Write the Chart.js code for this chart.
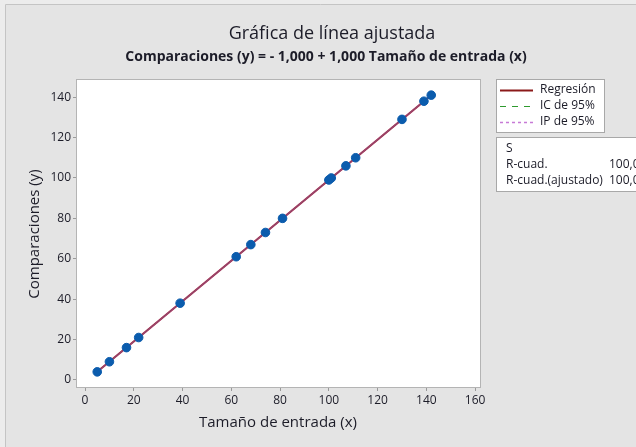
<!DOCTYPE html>
<html>
<head>
<meta charset="utf-8">
<script src="https://cdnjs.cloudflare.com/ajax/libs/Chart.js/4.4.1/chart.umd.js"></script>
<style>
  html, body { margin: 0; padding: 0; background: #ececec; }
  #wrap { position: relative; width: 636px; height: 447px; }
</style>
</head>
<body>
<div id="wrap"><canvas id="chart" width="636" height="447"></canvas></div>
<script>
// observaciones
const sizeX = [5, 10, 17, 22, 39, 62, 68, 74, 81, 100, 101, 107, 111, 130, 139, 142];
const compY = [4, 9, 16, 21, 38, 61, 67, 73, 80, 99, 100, 106, 110, 129, 138, 141];

// recta ajustada y bandas (coinciden, R-cuad. = 100%)
const fitX = [5, 142];
const fitY = [4, 141];
const ciLow = [4, 141];
const ciHigh = [4, 141];
const piLow = [4, 141];
const piHigh = [4, 141];

const xTicks = [0, 20, 40, 60, 80, 100, 120, 140, 160];
const yTicks = [0, 20, 40, 60, 80, 100, 120, 140];

const legendItems = ['Regresión', 'IC de 95%', 'IP de 95%'];
const statLabels = ['S', 'R-cuad.', 'R-cuad.(ajustado)'];
const statValues = ['', '100,0%', '100,0%'];

const FONT = '"Open Sans", "Noto Sans", sans-serif';
const TXT = '#1c1c28';

const pts = (xs, ys) => xs.map((x, i) => ({ x, y: ys[i] }));

const decor = {
  id: 'decor',
  beforeDraw(chart) {
    const { ctx, chartArea: a } = chart;
    ctx.save();
    ctx.fillStyle = '#e4e4e4';
    ctx.fillRect(5, 5, 636, 447);
    ctx.strokeStyle = '#c4c4c4';
    ctx.lineWidth = 1;
    ctx.beginPath();
    ctx.moveTo(5.5, 447); ctx.lineTo(5.5, 4.5); ctx.lineTo(636, 4.5);
    ctx.stroke();
    ctx.fillStyle = '#ffffff';
    ctx.fillRect(a.left, a.top, a.right - a.left, a.bottom - a.top);
    ctx.restore();
  },
  afterDraw(chart) {
    const { ctx, chartArea: a } = chart;
    ctx.save();
    // borde del área de trazado
    ctx.strokeStyle = '#b4b4b4';
    ctx.lineWidth = 1;
    ctx.strokeRect(a.left - 0.5, a.top - 0.5, a.right - a.left + 1, a.bottom - a.top + 1);

    // títulos
    ctx.fillStyle = TXT;
    ctx.textAlign = 'center';
    ctx.textBaseline = 'middle';
    ctx.font = '500 18px ' + FONT;
    ctx.fillText('Gráfica de línea ajustada', 332, 34);
    ctx.font = 'bold 14px ' + FONT;
    ctx.fillText('Comparaciones (y) = - 1,000 + 1,000 Tamaño de entrada (x)', 326, 57);

    // títulos de ejes
    ctx.font = '500 15px ' + FONT;
    ctx.fillText('Tamaño de entrada (x)', 278, 423);
    ctx.save();
    ctx.translate(35, 234);
    ctx.rotate(-Math.PI / 2);
    ctx.fillText('Comparaciones (y)', 0, 0);
    ctx.restore();

    // leyenda
    ctx.fillStyle = '#ffffff';
    ctx.fillRect(497, 80, 107, 52);
    ctx.strokeStyle = '#a8a8a8';
    ctx.strokeRect(496.5, 79.5, 108, 53);
    const styles = [
      { color: '#8b1a1a', dash: [], w: 2 },
      { color: '#2e9a2e', dash: [6, 6], w: 1 },
      { color: '#c77ad6', dash: [3, 3], w: 1.5 }
    ];
    ctx.font = '12px ' + FONT;
    ctx.textAlign = 'left';
    legendItems.forEach((lab, i) => {
      const y = 90 + i * 16;
      ctx.strokeStyle = styles[i].color;
      ctx.lineWidth = styles[i].w;
      ctx.setLineDash(styles[i].dash);
      ctx.beginPath();
      ctx.moveTo(500, y + 0.5);
      ctx.lineTo(533, y + 0.5);
      ctx.stroke();
      ctx.setLineDash([]);
      ctx.fillStyle = TXT;
      ctx.fillText(lab, 540, y);
    });

    // tabla de estadísticos
    ctx.fillStyle = '#ffffff';
    ctx.fillRect(497, 138, 150, 53);
    ctx.strokeStyle = '#a8a8a8';
    ctx.lineWidth = 1;
    ctx.strokeRect(496.5, 137.5, 160, 54);
    ctx.fillStyle = TXT;
    statLabels.forEach((lab, i) => {
      const y = 149 + i * 16;
      ctx.fillText(lab, 506, y);
      ctx.fillText(statValues[i], 609, y);
    });
    ctx.restore();
  }
};

new Chart(document.getElementById('chart'), {
  type: 'scatter',
  data: {
    datasets: [
      {
        label: 'Regresión',
        data: pts(fitX, fitY),
        showLine: true,
        borderColor: '#961a2a',
        borderWidth: 2,
        pointRadius: 0,
        order: 4
      },
      {
        label: 'IC inferior',
        data: pts(fitX, ciLow),
        showLine: true,
        borderColor: 'rgba(46,154,46,0.5)',
        borderWidth: 1,
        borderDash: [6, 6],
        pointRadius: 0,
        order: 3
      },
      {
        label: 'IC superior',
        data: pts(fitX, ciHigh),
        showLine: true,
        borderColor: 'rgba(46,154,46,0.5)',
        borderWidth: 1,
        borderDash: [6, 6],
        borderDashOffset: 6,
        pointRadius: 0,
        order: 3
      },
      {
        label: 'IP inferior',
        data: pts(fitX, piLow),
        showLine: true,
        borderColor: 'rgba(199,70,190,0.45)',
        borderWidth: 1.5,
        borderDash: [3, 3],
        pointRadius: 0,
        order: 2
      },
      {
        label: 'IP superior',
        data: pts(fitX, piHigh),
        showLine: true,
        borderColor: 'rgba(199,70,190,0.45)',
        borderWidth: 1.5,
        borderDash: [3, 3],
        borderDashOffset: 3,
        pointRadius: 0,
        order: 2
      },
      {
        label: 'Observaciones',
        data: pts(sizeX, compY),
        backgroundColor: '#0b5cad',
        borderColor: '#0b5cad',
        pointRadius: 4.3,
        order: 1
      }
    ]
  },
  options: {
    responsive: false,
    animation: false,
    layout: { padding: { left: 0, right: 156, top: 80, bottom: 0 } },
    plugins: {
      legend: { display: false },
      tooltip: { enabled: false }
    },
    scales: {
      x: {
        type: 'linear',
        min: -3.3,
        max: 162,
        afterBuildTicks(axis) { axis.ticks = xTicks.map(v => ({ value: v })); },
        afterFit(axis) { axis.height = 60; },
        grid: { drawOnChartArea: false, drawTicks: true, tickLength: 4, color: '#9a9a9a' },
        border: { display: false },
        ticks: { color: TXT, font: { family: FONT, size: 12 }, padding: 2, maxRotation: 0 }
      },
      y: {
        type: 'linear',
        min: -3.5,
        max: 148.5,
        afterBuildTicks(axis) { axis.ticks = yTicks.map(v => ({ value: v })); },
        afterFit(axis) { axis.width = 77; },
        grid: { drawOnChartArea: false, drawTicks: true, tickLength: 4, color: '#9a9a9a' },
        border: { display: false },
        ticks: { color: TXT, font: { family: FONT, size: 12 }, padding: 2 }
      }
    }
  },
  plugins: [decor]
});
</script>
</body>
</html>
